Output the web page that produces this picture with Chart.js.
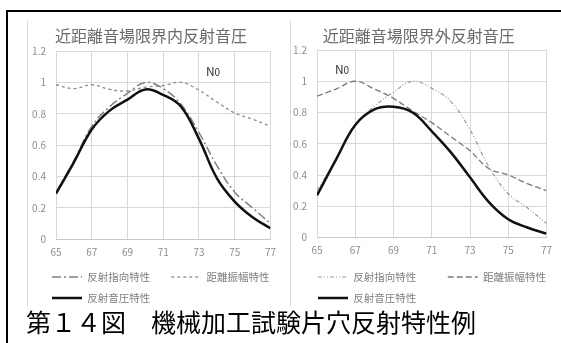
<!DOCTYPE html>
<html lang="ja">
<head>
<meta charset="UTF-8">
<title>第１４図 機械加工試験片穴反射特性例</title>
<script src="https://cdn.jsdelivr.net/npm/chart.js@4.4.0/dist/chart.umd.min.js"></script>
<style>
    body {
        margin: 0;
        width: 561px;
        height: 343px;
        background: #fff;
        position: relative;
        overflow: hidden;
        font-family: "Noto Sans CJK JP", sans-serif;
    }
    .frame {
        position: absolute;
        left: 6px;
        top: 10px;
        width: 600px;
        height: 400px;
        border-top: 2px solid #000;
        border-left: 2px solid #000;
    }
    .edge {
        position: absolute;
        top: 21px;
        height: 285px;
        width: 0;
        border-left: 1px solid #d9d9d9;
    }
    .box {
        position: absolute;
        top: 21px;
        height: 300px;
    }
    #leftBox { left: 28px; width: 255px; }
    #rightBox { left: 291px; width: 270px; }
    .no {
        position: absolute;
        font-size: 12px;
        color: #333;
        transform: translate(-50%, -50%);
    }
    .no span { font-size: 10px; }
    .caption {
        position: absolute;
        left: 26px;
        top: 309px;
        font-size: 25px;
        line-height: 25px;
        color: #000;
        white-space: nowrap;
    }
</style>
</head>
<body>
    <div class="frame"></div>
    <div class="edge" style="left:27px;"></div>
    <div class="edge" style="left:290px;"></div>
    <div class="box" id="leftBox"><canvas id="inner"></canvas></div>
    <div class="box" id="rightBox"><canvas id="outer"></canvas></div>
    <div class="no" style="left:213px; top:70px;">N<span>0</span></div>
    <div class="no" style="left:342px; top:68px;">N<span>0</span></div>
    <div class="caption">第１４図　機械加工試験片穴反射特性例</div>

<script>
// 横軸（位置）
const xValues = [65, 66, 67, 68, 69, 70, 71, 72, 73, 74, 75, 76, 77];
const seriesNames = ["反射指向特性", "距離振幅特性", "反射音圧特性"];
const chartTitles = ["近距離音場限界内反射音圧", "近距離音場限界外反射音圧"];

// 近距離音場限界内
const innerDirectivity = [0.30, 0.50, 0.72, 0.845, 0.93, 1.00, 0.96, 0.86, 0.68, 0.47, 0.30, 0.20, 0.10];
const innerDistance    = [0.985, 0.96, 0.985, 0.955, 0.945, 0.97, 0.98, 1.00, 0.95, 0.875, 0.805, 0.765, 0.72];
const innerPressure    = [0.29, 0.49, 0.70, 0.82, 0.89, 0.955, 0.92, 0.845, 0.64, 0.39, 0.24, 0.14, 0.07];

// 近距離音場限界外
const outerDirectivity = [0.30, 0.50, 0.72, 0.84, 0.93, 1.00, 0.955, 0.87, 0.69, 0.45, 0.28, 0.19, 0.09];
const outerDistance    = [0.905, 0.95, 1.00, 0.95, 0.89, 0.81, 0.735, 0.645, 0.555, 0.44, 0.40, 0.345, 0.30];
const outerPressure    = [0.27, 0.50, 0.72, 0.82, 0.837, 0.80, 0.68, 0.545, 0.385, 0.225, 0.117, 0.064, 0.025];

const tickFont = { family: "'Noto Sans CJK JP', sans-serif", size: 10 };

// 凡例を右へずらす（Excel風の配置）
const legendShift = {
    id: "legendShift",
    afterLayout(chart, args, opts) {
        const lg = chart.legend;
        if (lg && opts.dx) {
            lg.left += opts.dx;
            lg.right += opts.dx;
        }
    }
};

function toPoints(arr) {
    return xValues.map((x, i) => ({ x: x, y: arr[i] }));
}

function makeChart(id, title, series, styles, lay) {
    const datasets = series.map((arr, i) => ({
        label: seriesNames[i],
        data: toPoints(arr),
        borderColor: styles[i].color,
        backgroundColor: styles[i].color,
        borderWidth: styles[i].width,
        borderDash: styles[i].dash,
        pointRadius: 0,
        pointStyle: "line",
        tension: 0.4,
        order: i === 2 ? 0 : 1
    }));

    return new Chart(document.getElementById(id), {
        type: "line",
        data: { datasets: datasets },
        plugins: [legendShift],
        options: {
            responsive: true,
            maintainAspectRatio: false,
            animation: false,
            layout: { padding: { left: lay.left, right: lay.right, top: 0, bottom: lay.bottom } },
            plugins: {
                tooltip: { enabled: false },
                legendShift: { dx: lay.legendDx },
                title: {
                    display: true,
                    text: title,
                    color: "#6b6b6b",
                    font: { family: "'Noto Sans CJK JP', sans-serif", size: 16, weight: "normal" },
                    padding: { top: lay.titleTop, bottom: lay.titleBottom }
                },
                legend: {
                    position: "bottom",
                    align: "start",
                    labels: {
                        usePointStyle: true,
                        pointStyleWidth: 30,
                        padding: 10.5,
                        color: "#7f7f7f",
                        font: { family: "'Noto Sans CJK JP', sans-serif", size: 10.5 },
                        sort: (a, b) => a.datasetIndex - b.datasetIndex,
                        generateLabels: chart => {
                            const items = Chart.defaults.plugins.legend.labels.generateLabels(chart);
                            items.forEach(item => {
                                const ds = chart.data.datasets[item.datasetIndex];
                                item.lineDash = ds.borderDash;
                                item.lineWidth = ds.borderWidth;
                                item.strokeStyle = ds.borderColor;
                                if (item.datasetIndex === 0) item.text += lay.gap;
                            });
                            return items;
                        }
                    }
                }
            },
            scales: {
                x: {
                    type: "linear",
                    min: 65,
                    max: 77,
                    ticks: { stepSize: 2, color: "#8c8c8c", font: tickFont, padding: 7 },
                    grid: { color: "#d9d9d9", drawTicks: false },
                    border: { color: "#c8c8c8" },
                    afterFit: s => { s.height = lay.xHeight; }
                },
                y: {
                    min: 0,
                    max: 1.2,
                    ticks: {
                        stepSize: 0.2,
                        color: "#8c8c8c",
                        font: tickFont,
                        padding: 10,
                        callback: v => String(+v.toFixed(1))
                    },
                    grid: { color: "#d9d9d9", drawTicks: false },
                    border: { display: false },
                    afterFit: s => { s.width = lay.yWidth; }
                }
            }
        }
    });
}

makeChart("inner", chartTitles[0],
    [innerDirectivity, innerDistance, innerPressure],
    [
        { color: "#808080", width: 1.5, dash: [9, 3, 2, 3] },
        { color: "#8c8c8c", width: 1.3, dash: [3, 3] },
        { color: "#111111", width: 2.5, dash: [] }
    ],
    { left: 2, right: 11, bottom: 7.75, titleTop: 5.4, titleBottom: 5.4, xHeight: 22, yWidth: 26, legendDx: 11.5, gap: "\u3000" });

makeChart("outer", chartTitles[1],
    [outerDirectivity, outerDistance, outerPressure],
    [
        { color: "#999999", width: 1.2, dash: [4, 2, 1, 2, 1, 2] },
        { color: "#7a7a7a", width: 1.3, dash: [6, 3] },
        { color: "#111111", width: 2.5, dash: [] }
    ],
    { left: 0, right: 14.5, bottom: 7.75, titleTop: 5.4, titleBottom: 4.4, xHeight: 23.75, yWidth: 26, legendDx: 16.5, gap: "\u3000\u3000" });
</script>
</body>
</html>
